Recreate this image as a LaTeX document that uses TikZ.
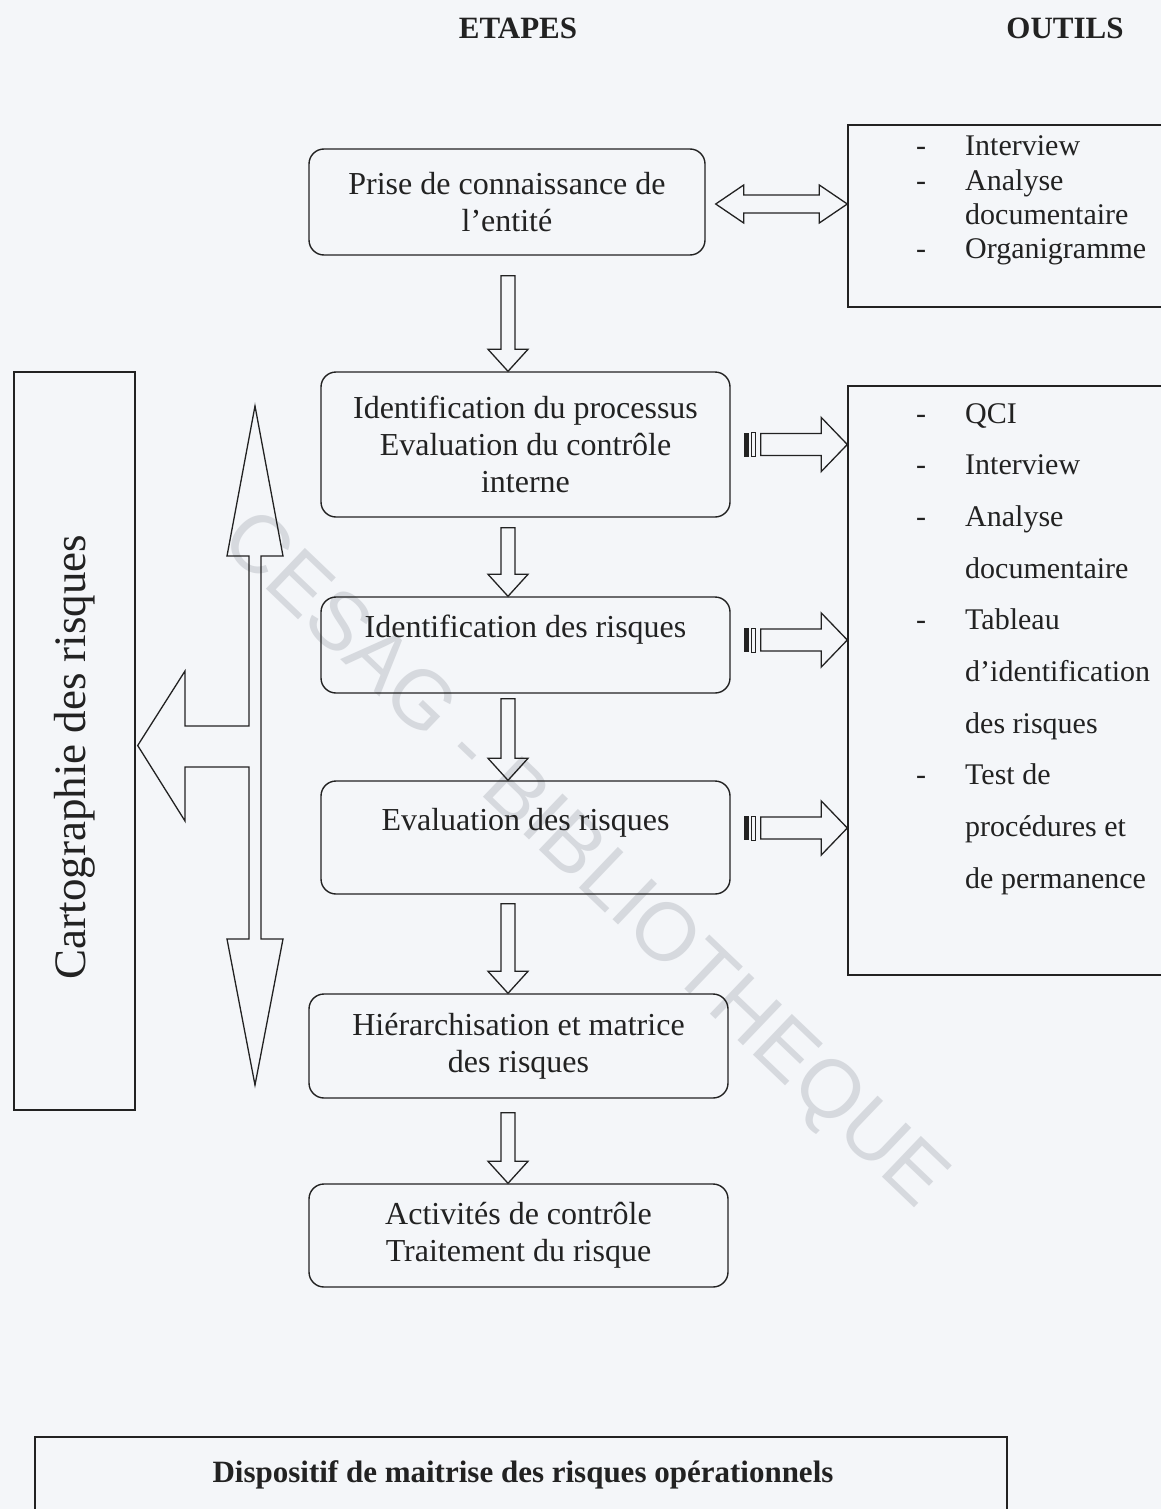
\documentclass[tikz,border=0pt]{standalone}
\usepackage{fontspec}
\usepackage{graphicx}
\setmainfont{Liberation Serif}
\newfontfamily\wmfont{Liberation Sans}
\usetikzlibrary{calc}
\definecolor{bg}{RGB}{244,246,249}
\definecolor{ink}{RGB}{34,34,34}
\definecolor{wm}{RGB}{214,217,222}
% down block arrow between two steps: #1 from, #2 to, #3 gap below #1
\newcommand{\downflow}[3]{%
  \coordinate (ft) at ($(axis |- #1.south)+(0,#3)$);
  \coordinate (fh) at (axis |- #2.north);
  \draw[blockarrow] ($(ft)+(-7,0)$) -- ($(ft)+(7,0)$) -- ($(fh)+(7,-22)$) -- ($(fh)+(20,-22)$) -- (fh)
    -- ($(fh)+(-20,-22)$) -- ($(fh)+(-7,-22)$) -- cycle;}
% striped right block arrow: #1 step, #2 tool box, #3 vertical offset (px, down positive)
\newcommand{\toolflow}[3]{%
  \coordinate (fs) at ($(#1.east)+(13,#3)$);
  \coordinate (fe) at (#2.west |- fs);
  \fill[ink] ($(fs)+(0,-12)$) rectangle ($(fs)+(5,12)$);
  \draw[ink, line width=0.8pt] ($(fs)+(7.5,-12)$) rectangle ($(fs)+(12,12)$);
  \draw[blockarrow] ($(fs)+(17,-11)$) -- ($(fe)+(-26,-11)$) -- ($(fe)+(-26,-27)$) -- (fe)
    -- ($(fe)+(-26,27)$) -- ($(fe)+(-26,11)$) -- ($(fs)+(17,11)$) -- cycle;}
\begin{document}
\begin{tikzpicture}[x=1pt,y=-1pt,
  stepbox/.style={draw=ink, rounded corners=15pt, line width=1.4pt, align=center, text=ink,
    inner sep=0pt, font=\fontsize{32}{37}\selectfont},
  toolbox/.style={draw=ink, line width=1.4pt, inner sep=0pt},
  blockarrow/.style={draw=ink, line width=1.3pt, line join=miter},
  tooltext/.style={anchor=base west, inner sep=0pt, text=ink, font=\fontsize{30}{36}\selectfont},
  tooldash/.style={anchor=base, inner sep=0pt, text=ink, font=\fontsize{30}{36}\selectfont},
  heading/.style={inner sep=0pt, text=ink, font=\bfseries\fontsize{31}{37}\selectfont}]

\useasboundingbox (0,0) rectangle (1161,1509);
\clip (0,0) rectangle (1161,1509);
\fill[bg] (0,0) rectangle (1161,1509);

% watermark
\node[rotate=-43.7, inner sep=0pt, text=wm, font=\wmfont\fontsize{82}{82}\selectfont] (wmark) at (582,862) {CESAG - BIBLIOTHEQUE};

% headings
\node[heading] (etapes) at (518,28) {ETAPES};
\node[heading] (outils) at (1065,28) {OUTILS};

% steps
\node[stepbox, minimum width=396, minimum height=106] (b1) at (507,202) {Prise de connaissance de\\l’entité};
\node[stepbox, minimum width=409, minimum height=145] (b2) at (525.5,444.5) {Identification du processus\\Evaluation du contrôle\\interne};
\node[stepbox, minimum width=409, minimum height=96] (b3) at (525.5,645) {Identification des risques\\\mbox{}};
\node[stepbox, minimum width=409, minimum height=113] (b4) at (525.5,837.5) {Evaluation des risques\\\mbox{}};
\node[stepbox, minimum width=419, minimum height=104] (b5) at (518.5,1046) {Hiérarchisation et matrice\\des risques};
\node[stepbox, minimum width=419, minimum height=103] (b6) at (518.5,1235.5) {Activités de contrôle\\Traitement du risque};

% tool boxes (open to the right, cut by the page edge)
\node[toolbox, minimum width=340, minimum height=182] (t1) at (1018,216) {};
\node[toolbox, minimum width=340, minimum height=589] (t2) at (1018,680.5) {};

% tools of box 1
\node[tooldash] (t1d1) at (921,155) {-};
\node[tooltext] (t1i1) at (965,155) {Interview};
\node[tooldash] (t1d2) at (921,190) {-};
\node[tooltext] (t1i2) at (965,190) {Analyse};
\node[tooltext] (t1i3) at (965,224) {documentaire};
\node[tooldash] (t1d4) at (921,258) {-};
\node[tooltext] (t1i4) at (965,258) {Organigramme};

% tools of box 2
\node[tooldash] (t2d1) at (921,423) {-};
\node[tooltext] (t2i1) at (965,423) {QCI};
\node[tooldash] (t2d2) at (921,474.7) {-};
\node[tooltext] (t2i2) at (965,474.7) {Interview};
\node[tooldash] (t2d3) at (921,526.4) {-};
\node[tooltext] (t2i3) at (965,526.4) {Analyse};
\node[tooltext] (t2i4) at (965,578.1) {documentaire};
\node[tooldash] (t2d5) at (921,629.8) {-};
\node[tooltext] (t2i5) at (965,629.8) {Tableau};
\node[tooltext] (t2i6) at (965,681.5) {d’identification};
\node[tooltext] (t2i7) at (965,733.2) {des risques};
\node[tooldash] (t2d8) at (921,784.9) {-};
\node[tooltext] (t2i8) at (965,784.9) {Test de};
\node[tooltext] (t2i9) at (965,836.6) {procédures et};
\node[tooltext] (t2i10) at (965,888.3) {de permanence};

% cartographie box
\node[draw=ink, line width=1.4pt, minimum width=121, minimum height=738, inner sep=0pt, text=ink,
  font=\fontsize{45}{50}\selectfont] (carto) at (74.5,741) {\rotatebox{90}{Cartographie des risques\hspace*{32pt}}};

% bottom box
\node[toolbox, minimum width=972, minimum height=186] (dispo) at (521,1530) {};
\node[heading] (dispotext) at (523,1475) {Dispositif de maitrise des risques opérationnels};

% down arrows between steps
\coordinate (axis) at (508,0);
\downflow{b1}{b2}{20}
\downflow{b2}{b3}{10}
\downflow{b3}{b4}{5}
\downflow{b4}{b5}{9}
\downflow{b5}{b6}{14}

% double arrow step 1 <-> tools 1
\coordinate (hl) at ($(b1.east)+(10,2)$);
\coordinate (hr) at (t1.west |- hl);
\draw[blockarrow] (hl) -- ($(hl)+(28,-19)$) -- ($(hl)+(28,-9)$) -- ($(hr)+(-28,-9)$) -- ($(hr)+(-28,-19)$)
  -- (hr) -- ($(hr)+(-28,19)$) -- ($(hr)+(-28,9)$) -- ($(hl)+(28,9)$) -- ($(hl)+(28,19)$) -- cycle;

% striped arrows to tools 2
\toolflow{b2}{t2}{0}
\toolflow{b3}{t2}{-5}
\toolflow{b4}{t2}{-9.5}

% vertical double arrow with branch to cartographie
\coordinate (cartotip) at ($(carto.east)+(2,4.5)$);
\draw[blockarrow] (255,406) -- (283,556) -- (261,556) -- (261,939) -- (283,939) -- (255,1085)
  -- (227,939) -- (249,939) -- (249,767) -- (185,767) -- (185,821) -- (cartotip) -- (185,671)
  -- (185,726) -- (249,726) -- (249,556) -- (227,556) -- cycle;
\end{tikzpicture}
\end{document}
